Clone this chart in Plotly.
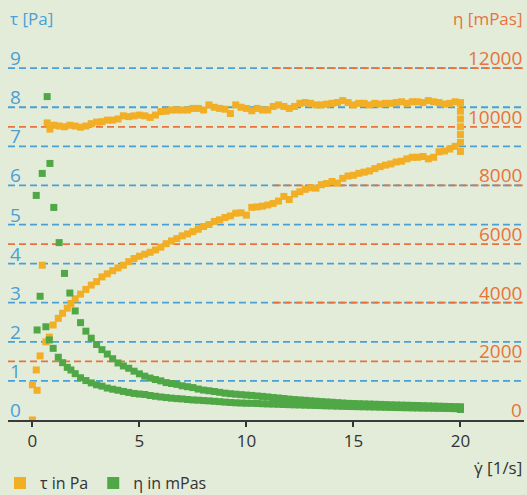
import plotly.graph_objects as go

# ---------------- data ----------------
shear_up = [0.0, 0.22, 0.36, 0.63, 0.79, 0.97, 1.21, 1.41, 1.63, 1.8, 2.0,
            2.25, 2.5, 2.75, 3.0, 3.25, 3.5, 3.75, 4.0, 4.25, 4.5, 4.75, 5.0,
            5.25, 5.5, 5.75, 6.0, 6.25, 6.5, 6.75, 7.0, 7.25, 7.5, 7.75, 8.0,
            8.25, 8.5, 8.75, 9.0, 9.25, 9.5, 9.75, 10.0, 10.25, 10.5, 10.75, 11.0,
            11.25, 11.5, 11.75, 12.0, 12.25, 12.5, 12.75, 13.0, 13.25, 13.5, 13.75, 14.0,
            14.25, 14.5, 14.75, 15.0, 15.25, 15.5, 15.75, 16.0, 16.25, 16.5, 16.75, 17.0,
            17.25, 17.5, 17.75, 18.0, 18.25, 18.5, 18.75, 19.0, 19.25, 19.5, 19.75, 20.0,
            20.0, 20.0, 20.0, 20.0, 20.0, 20.0]

tau_up = [0.0, 0.76, 1.64, 2.0, 2.12, 2.43, 2.6, 2.73, 2.86, 2.98, 3.1,
          3.22, 3.34, 3.45, 3.54, 3.66, 3.74, 3.82, 3.89, 3.96, 4.05, 4.13, 4.19,
          4.24, 4.29, 4.35, 4.42, 4.51, 4.58, 4.64, 4.71, 4.76, 4.82, 4.88, 4.95,
          5.0, 5.08, 5.12, 5.18, 5.22, 5.29, 5.3, 5.24, 5.44, 5.45, 5.47, 5.5,
          5.54, 5.6, 5.72, 5.64, 5.78, 5.84, 5.9, 5.94, 5.93, 6.02, 6.05, 6.1,
          6.06, 6.18, 6.24, 6.26, 6.31, 6.34, 6.37, 6.43, 6.48, 6.52, 6.55, 6.6,
          6.62, 6.68, 6.72, 6.72, 6.74, 6.68, 6.72, 6.86, 6.88, 6.93, 7.0, 6.87,
          7.1, 7.3, 7.5, 7.7, 7.9, 8.1]

eta_up = [None, 3070, 4220, 3180, 2730, 2445, 2140, 1955, 1795, 1705, 1580,
          1440, 1345, 1265, 1200, 1155, 1090, 1050, 1015, 975, 940, 905, 885,
          870, 835, 810, 785, 765, 745, 730, 718, 700, 684, 675, 663,
          652, 638, 625, 610, 598, 587, 578, 572, 570, 562, 555, 548,
          542, 535, 529, 523, 517, 512, 506, 500, 494, 490, 483, 478,
          472, 467, 462, 458, 454, 450, 446, 442, 437, 433, 429, 425,
          421, 417, 413, 410, 406, 403, 400, 397, 394, 391, 386, 380,
          360, 368, 378, 388, 396, 405]

shear_down = [20.0, 19.75, 19.5, 19.25, 19.0, 18.75, 18.5, 18.25, 18.0, 17.75, 17.5, 17.25,
              17.0, 16.75, 16.5, 16.25, 16.0, 15.75, 15.5, 15.25, 15.0, 14.75, 14.5, 14.25,
              14.0, 13.75, 13.5, 13.25, 13.0, 12.75, 12.5, 12.25, 12.0, 11.75, 11.5, 11.25,
              11.0, 10.75, 10.5, 10.25, 10.0, 9.75, 9.5, 9.25, 9.0, 8.75, 8.5, 8.25,
              8.0, 7.75, 7.5, 7.25, 7.0, 6.75, 6.5, 6.25, 6.0, 5.75, 5.5, 5.25,
              5.0, 4.75, 4.5, 4.25, 4.0, 3.75, 3.5, 3.25, 3.0, 2.75, 2.5, 2.25,
              2.0, 1.75, 1.5, 1.25, 1.0, 0.82, 0.69, 0.46, 0.18, 0.0]

tau_down = [8.12, 8.14, 8.1, 8.08, 8.12, 8.14, 8.17, 8.12, 8.14, 8.14, 8.1, 8.14,
            8.12, 8.1, 8.1, 8.08, 8.1, 8.06, 8.1, 8.1, 8.06, 8.12, 8.17, 8.12,
            8.1, 8.08, 8.06, 8.06, 8.1, 8.12, 8.1, 8.02, 7.97, 8.02, 8.06, 8.02,
            7.93, 7.93, 7.97, 7.91, 7.97, 8.0, 8.06, 7.84, 7.95, 7.97, 8.0, 8.06,
            7.93, 7.97, 7.97, 7.93, 7.93, 7.93, 7.93, 7.9, 7.89, 7.8, 7.74, 7.78,
            7.8, 7.78, 7.76, 7.78, 7.7, 7.67, 7.67, 7.63, 7.62, 7.58, 7.52, 7.49,
            7.52, 7.54, 7.5, 7.52, 7.54, 7.44, 7.6, 3.96, 1.28, 0.9]

eta_down = [452, 456, 460, 465, 471, 477, 483, 488, 494, 498, 503, 508,
            513, 518, 525, 532, 538, 544, 550, 556, 561, 568, 580, 592,
            605, 617, 628, 642, 655, 670, 684, 697, 712, 733, 750, 768,
            786, 805, 820, 838, 850, 865, 880, 896, 915, 945, 972, 998,
            1020, 1055, 1105, 1135, 1165, 1215, 1245, 1275, 1335, 1380, 1430, 1495,
            1575, 1665, 1765, 1845, 1945, 2090, 2250, 2400, 2575, 2790, 3030, 3320,
            3720, 4330, 5000, 6050, 7250, 8750, 11030, 8410, 7660, None]

x_ticks = [0, 5, 10, 15, 20]
tau_ticks = [0, 1, 2, 3, 4, 5, 6, 7, 8, 9]
eta_ticks = [0, 2000, 4000, 6000, 8000, 10000, 12000]

# ---------------- styling ----------------
BG = "#e2ecd9"
ORANGE = "#f2ae24"
GREEN = "#4fa745"
BLUE_TXT = "#4a9fd6"
RED_TXT = "#e8733d"
DARK = "#333333"
FONT = "Open Sans"

TAU_TOP = 9.72
ETA_TOP = TAU_TOP * 12000 / 9
X_RANGE = [-1.14, 22.97]

fig = go.Figure()
fig.add_trace(go.Scatter(
    x=shear_up + shear_down, y=tau_up + tau_down, mode="markers",
    name="τ in Pa", yaxis="y",
    marker=dict(symbol="square", size=7, color=ORANGE, line=dict(width=0)),
))
fig.add_trace(go.Scatter(
    x=shear_up + shear_down, y=eta_up + eta_down, mode="markers",
    name="η in mPas", yaxis="y2",
    marker=dict(symbol="square", size=7, color=GREEN, line=dict(width=0)),
))

shapes = []
for v in tau_ticks[1:]:
    shapes.append(dict(type="line", xref="paper", x0=0, x1=1, yref="y", y0=v, y1=v,
                       layer="below", line=dict(color="#4a9fd6", width=1.8, dash="7px,4px")))
for v in eta_ticks[1:]:
    ratio = v * 9 / 12000
    coincide = abs(ratio - round(ratio)) < 1e-9
    shapes.append(dict(type="line", xref="paper", x0=0.515 if coincide else 0, x1=1,
                       yref="y2", y0=v, y1=v,
                       layer="below", line=dict(color="#e8733d", width=1.8, dash="7px,4px")))

annotations = []
for v in tau_ticks:
    annotations.append(dict(text=str(v), xref="paper", x=0, xanchor="left", xshift=0,
                            yref="y", y=v, yanchor="bottom", yshift=-5, showarrow=False,
                            font=dict(family=FONT, size=19, color=BLUE_TXT)))
for v in eta_ticks:
    annotations.append(dict(text=str(v), xref="paper", x=1, xanchor="right", xshift=0,
                            yref="y2", y=v, yanchor="bottom", yshift=-5, showarrow=False,
                            font=dict(family=FONT, size=19, color=RED_TXT)))
annotations.append(dict(text="τ [Pa]", xref="paper", x=0, xanchor="left",
                        yref="paper", y=1, yanchor="middle", yshift=22, showarrow=False,
                        font=dict(family=FONT, size=17, color=BLUE_TXT)))
annotations.append(dict(text="η [mPas]", xref="paper", x=1, xanchor="right",
                        yref="paper", y=1, yanchor="middle", yshift=22, showarrow=False,
                        font=dict(family=FONT, size=17, color=RED_TXT)))
annotations.append(dict(text="γ\u0307 [1/s]", xref="paper", x=1, xanchor="right",
                        yref="paper", y=0, yanchor="middle", yshift=-47, showarrow=False,
                        font=dict(family=FONT, size=17, color=DARK)))

fig.update_layout(
    width=527, height=495,
    margin=dict(l=8, r=3, t=40, b=75),
    paper_bgcolor=BG, plot_bgcolor=BG,
    font=dict(family=FONT, color=DARK),
    showlegend=True,
    legend=dict(orientation="h", xref="container", x=-0.02, xanchor="left",
                yref="container", y=0.024, yanchor="middle",
                font=dict(family=FONT, size=16, color=DARK), itemsizing="constant",
                bgcolor="rgba(0,0,0,0)", itemwidth=30, tracegroupgap=0),
    xaxis=dict(range=X_RANGE, tickvals=x_ticks, ticktext=[str(t) for t in x_ticks],
               ticks="outside", ticklen=5, tickwidth=1.5, tickcolor=DARK,
               showline=True, linecolor="#3a3a3a", linewidth=2,
               showgrid=False, zeroline=False,
               tickfont=dict(family=FONT, size=17, color=DARK)),
    yaxis=dict(range=[0, TAU_TOP], showgrid=False, showticklabels=False,
               zeroline=False, showline=False, ticks=""),
    yaxis2=dict(range=[0, ETA_TOP], overlaying="y", side="right", showgrid=False,
                showticklabels=False, zeroline=False, showline=False, ticks=""),
    shapes=shapes,
    annotations=annotations,
)

fig.write_html(
    "out.html",
    config={"displayModeBar": False},
    post_script="document.body.style.margin='0';document.body.style.background='" + BG + "';",
)
